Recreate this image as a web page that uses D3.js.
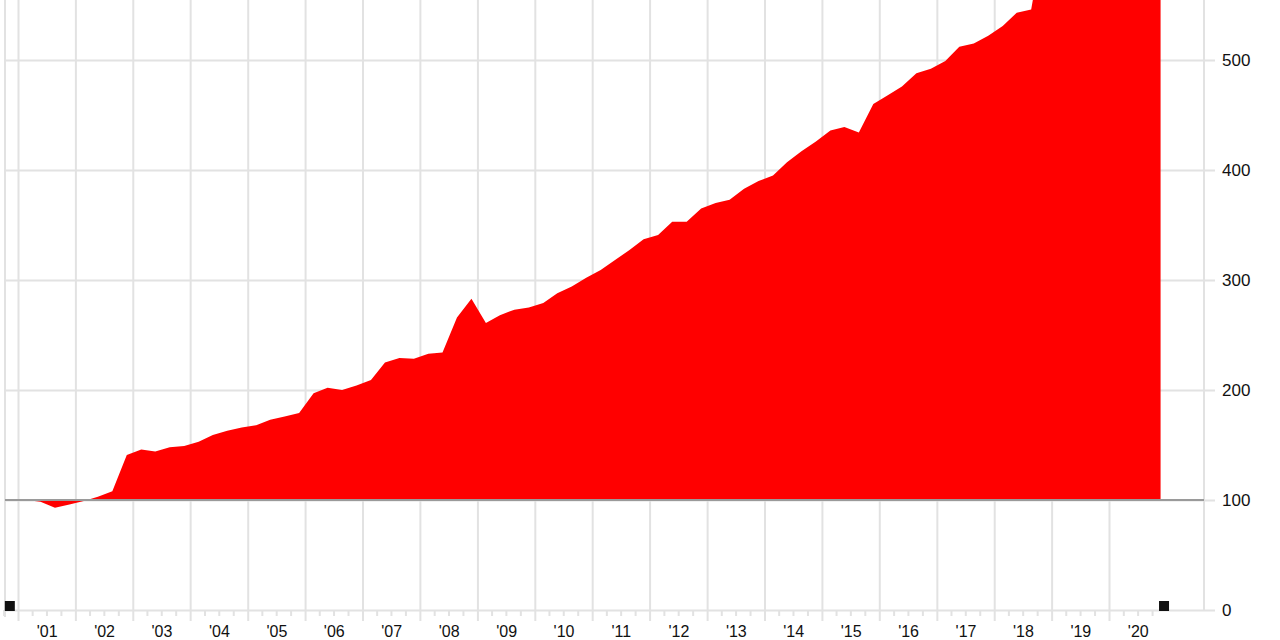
<!DOCTYPE html>
<html>
<head>
<meta charset="utf-8">
<script src="https://cdn.jsdelivr.net/npm/d3@7"></script>
<style>
  html, body { margin: 0; padding: 0; background: #fff; }
  svg { display: block; font-family: "Liberation Sans", Arial, sans-serif; }
</style>
</head>
<body>
<svg id="chart" width="1280" height="640"></svg>
<script>
// ---- data ----
const periods = [
  "2001-02-24","2001-05-24","2001-08-24","2001-11-24",
  "2002-02-24","2002-05-24","2002-08-24","2002-11-24",
  "2003-02-24","2003-05-24","2003-08-24","2003-11-24",
  "2004-02-24","2004-05-24","2004-08-24","2004-11-24",
  "2005-02-24","2005-05-24","2005-08-24","2005-11-24",
  "2006-02-24","2006-05-24","2006-08-24","2006-11-24",
  "2007-02-24","2007-05-24","2007-08-24","2007-11-24",
  "2008-02-24","2008-05-24","2008-08-24","2008-11-24",
  "2009-02-24","2009-05-24","2009-08-24","2009-11-24",
  "2010-02-24","2010-05-24","2010-08-24","2010-11-24",
  "2011-02-24","2011-05-24","2011-08-24","2011-11-24",
  "2012-02-24","2012-05-24","2012-08-24","2012-11-24",
  "2013-02-24","2013-05-24","2013-08-24","2013-11-24",
  "2014-02-24","2014-05-24","2014-08-24","2014-11-24",
  "2015-02-24","2015-05-24","2015-08-24","2015-11-24",
  "2016-02-24","2016-05-24","2016-08-24","2016-11-24",
  "2017-02-24","2017-05-24","2017-08-24","2017-11-24",
  "2018-02-24","2018-05-24","2018-08-24","2018-11-24",
  "2019-02-24","2019-05-24","2019-08-24","2019-11-24",
  "2020-02-24","2020-05-24","2020-08-24","2020-11-24"
];
const values = [
  100, 98.5, 93, 96, 99, 103, 108, 141, 146, 144,
  148, 149, 153, 159, 163, 166, 168, 173, 176, 179,
  197, 202, 200, 204, 209, 225, 229, 228.5, 233, 234,
  266, 283, 261, 268, 273, 275, 279, 288, 294, 302,
  309, 318, 327, 337, 341, 353, 353, 365, 370, 373,
  383, 390, 395, 407, 417, 426, 436, 439, 434, 460,
  468, 476, 488, 492, 499, 512, 515, 522, 531, 543,
  546, 620, 615, 630, 645, 660, 650, 690, 660, 720
];
const baseValue = 100;
const yTickValues = [0, 100, 200, 300, 400, 500];
const yearStarts = ["2001","2002","2003","2004","2005","2006","2007","2008","2009","2010",
                    "2011","2012","2013","2014","2015","2016","2017","2018","2019","2020"];
const yearLabels = ["'01","'02","'03","'04","'05","'06","'07","'08","'09","'10",
                    "'11","'12","'13","'14","'15","'16","'17","'18","'19","'20"];
const rangeMarkers = ["2000-11-10", "2020-12-16"];

// ---- layout ----
const svg = d3.select("#chart");
const plotL = 5, plotR = 1204, plotT = 0, plotB = 610;
const parseDate = d3.utcParse("%Y-%m-%d");
const parseYear = d3.utcParse("%Y");

const x = d3.scaleUtc()
  .domain([parseYear("2001"), parseYear("2020")])
  .range([18, 1109]);
const y = d3.scaleLinear()
  .domain([0, 500])
  .range([610, 60]);

const data = periods.map((p, i) => ({ date: parseDate(p), value: values[i] }));

// clip
svg.append("defs").append("clipPath").attr("id", "plotClip")
  .append("rect").attr("x", plotL).attr("y", plotT)
  .attr("width", plotR - plotL).attr("height", plotB - plotT);

const gridColor = "#e2e2e2";

// vertical year gridlines
const xGrid = svg.append("g").attr("transform", `translate(0,621)`)
  .call(d3.axisBottom(x).tickValues(yearStarts.map(parseYear)).tickSize(-621).tickFormat(""));
xGrid.select(".domain").remove();
xGrid.selectAll(".tick line").attr("stroke", gridColor).attr("stroke-width", 2);

// minor quarter ticks
const quarterTicks = d3.utcMonth.every(3).range(parseDate("2000-10-01"), parseDate("2021-01-01"))
  .filter(d => d.getUTCMonth() !== 0);
const xMinor = svg.append("g").attr("transform", `translate(0,${plotB})`)
  .call(d3.axisBottom(x).tickValues(quarterTicks).tickSize(6).tickFormat(""));
xMinor.select(".domain").remove();
xMinor.selectAll(".tick line").attr("stroke", gridColor).attr("stroke-width", 2);

// plot borders
svg.append("line").attr("x1", plotL).attr("x2", plotL).attr("y1", 0).attr("y2", 617)
  .attr("stroke", gridColor).attr("stroke-width", 2);
svg.append("line").attr("x1", plotR).attr("x2", plotR).attr("y1", 0).attr("y2", plotB)
  .attr("stroke", gridColor).attr("stroke-width", 2);

// horizontal gridlines + right labels
const yAxis = svg.append("g").attr("transform", `translate(1215,0)`)
  .call(d3.axisRight(y).tickValues(yTickValues).tickSize(-(1215 - plotL)).tickPadding(7));
yAxis.select(".domain").remove();
yAxis.selectAll(".tick line").attr("stroke", gridColor).attr("stroke-width", 2);
yAxis.selectAll(".tick text").attr("fill", "#111").attr("font-size", 17)
  .attr("font-family", "'Liberation Sans', Arial, sans-serif");

// area
const area = d3.area()
  .x(d => x(d.date))
  .y0(y(baseValue))
  .y1(d => y(d.value))
  .curve(d3.curveLinear);
svg.append("path").datum(data)
  .attr("clip-path", "url(#plotClip)")
  .attr("fill", "#ff0000")
  .attr("d", area);

// baseline at 100
svg.append("line")
  .attr("x1", plotL).attr("x2", plotR)
  .attr("y1", y(baseValue)).attr("y2", y(baseValue))
  .attr("stroke", "#9a9a9a").attr("stroke-width", 2);

// year labels
const midYears = yearStarts.map(s => {
  const a = parseYear(s), b = d3.utcYear.offset(a, 1);
  return new Date((a.getTime() + b.getTime()) / 2);
});
const xLab = svg.append("g").attr("transform", `translate(0,${plotB})`)
  .call(d3.axisBottom(x).tickValues(midYears).tickSize(0).tickPadding(16)
    .tickFormat((d, i) => yearLabels[i]));
xLab.select(".domain").remove();
xLab.selectAll(".tick text").attr("fill", "#111").attr("font-size", 16)
  .attr("font-family", "'Liberation Sans', Arial, sans-serif");

// range markers
svg.append("g").selectAll("rect").data(rangeMarkers.map(parseDate)).join("rect")
  .attr("x", d => x(d) - 5).attr("y", 601)
  .attr("width", 10).attr("height", 10)
  .attr("fill", "#111");
</script>
</body>
</html>
